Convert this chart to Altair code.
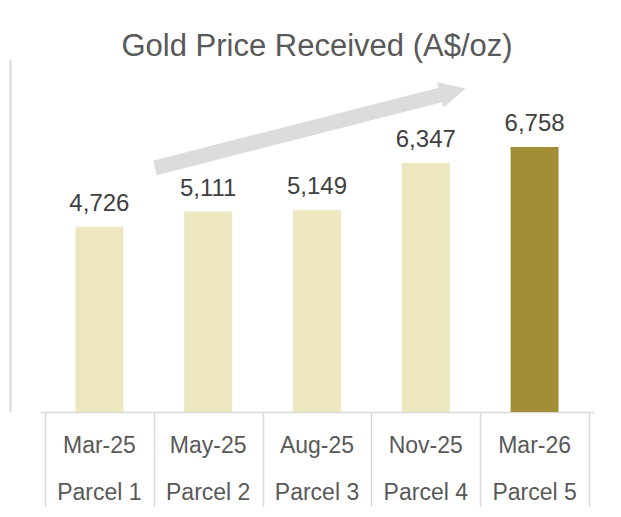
import altair as alt
import pandas as pd

# ---- data ----
dates = ["Mar-25", "May-25", "Aug-25", "Nov-25", "Mar-26"]
parcels = ["Parcel 1", "Parcel 2", "Parcel 3", "Parcel 4", "Parcel 5"]
prices = [4726, 5111, 5149, 6347, 6758]
group = ["past", "past", "past", "past", "latest"]

# trend arrow (category-index / price units)
shaft_pos = [0.51]
shaft_pos2 = [3.17]
shaft_val = [6221]
shaft_val2 = [8110]
head_pos = [3.246]
head_val = [8197]
head_glyph = ["\u25B6"]

FONT = "Liberation Sans"
LIGHT = "#ECE7BE"
DARK = "#A18E36"
GREY_LINE = "#D9D9D9"
ARROW = "#DCDCDC"

W, H = 554, 353
N = len(dates)

df = pd.DataFrame({"pos": list(range(N)), "val": prices, "date": dates, "parcel": parcels, "grp": group})
shaft = pd.DataFrame({"pos": shaft_pos, "p2": shaft_pos2, "val": shaft_val, "v2": shaft_val2})
head = pd.DataFrame({"pos": head_pos, "val": head_val, "g": head_glyph})

xs = alt.Scale(domain=[-0.5, N - 0.5], nice=False)
ys = alt.Scale(domain=[0, 9000], nice=False)
base = alt.Chart(df)

# x axis used as the table grid under the bars
table_axis = alt.Axis(
    values=[i - 0.5 for i in range(N + 1)], labels=False, title=None, grid=False,
    ticks=True, tickSize=94, tickColor=GREY_LINE, tickWidth=1.5,
    domain=True, domainColor=GREY_LINE, domainWidth=1.5,
)
# y axis used as the left frame line
frame_axis = alt.Axis(
    labels=False, title=None, grid=False, ticks=False,
    domain=True, domainColor=GREY_LINE, domainWidth=2, offset=30,
)

X = alt.X("pos:Q", scale=xs, axis=table_axis)
Y = alt.Y("val:Q", scale=ys, axis=frame_axis)

bars = base.mark_bar(size=48).encode(
    x=X, y=Y,
    color=alt.Color("grp:N", scale=alt.Scale(domain=["past", "latest"], range=[LIGHT, DARK]), legend=None),
)
values = base.mark_text(baseline="alphabetic", dy=-16, fontSize=24, font=FONT, color="#404040").encode(
    x=X, y=Y, text=alt.Text("val:Q", format=","),
)
date_txt = base.mark_text(baseline="alphabetic", fontSize=23, font=FONT, color="#595959").encode(
    x=X, y=alt.value(H + 41), text="date:N",
)
parcel_txt = base.mark_text(baseline="alphabetic", fontSize=23, font=FONT, color="#595959").encode(
    x=X, y=alt.value(H + 88), text="parcel:N",
)

# trend arrow: thick shaft + triangle glyph head
arrow_shaft = alt.Chart(shaft).mark_rule(color=ARROW, strokeWidth=15).encode(
    x=X, x2="p2:Q", y=Y, y2="v2:Q",
)
arrow_head = alt.Chart(head).mark_text(
    font="DejaVu Sans", fontSize=34, color=ARROW, align="center", baseline="middle", angle=345.8,
).encode(
    x=X, y=Y, text="g:N",
)

chart = alt.layer(
    arrow_shaft, arrow_head, bars, values, date_txt, parcel_txt,
).properties(
    width=W, height=H,
    title=alt.TitleParams("Gold Price Received (A$/oz)", fontSize=31, font=FONT, color="#595959",
                          fontWeight="normal", anchor="middle", offset=-4),
    autosize=alt.AutoSizeParams(type="none"),
    padding={"left": 32, "top": 51, "right": 19, "bottom": 97},
).configure_view(strokeWidth=0)

chart.save("out.html", embed_options={"renderer": "svg", "actions": False})
